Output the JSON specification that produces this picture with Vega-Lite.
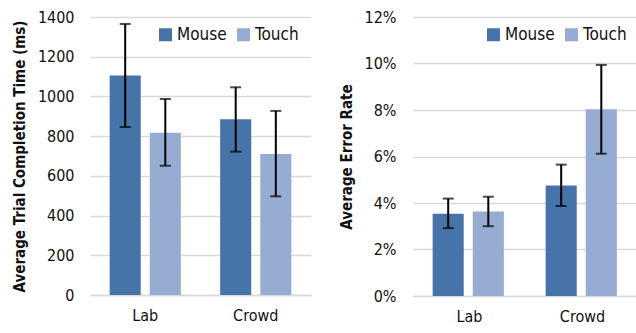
{
  "$schema": "https://vega.github.io/schema/vega-lite/v6.json",
  "background": "white",
  "padding": {"left": 12, "top": 9, "right": 0, "bottom": 0},
  "autosize": {"type": "pad"},
  "spacing": 28,
  "datasets": {
    "time": [
      {"env": "Lab", "device": "Mouse", "value": 1105, "lo": 846, "hi": 1365},
      {"env": "Lab", "device": "Touch", "value": 817, "lo": 651, "hi": 987},
      {"env": "Crowd", "device": "Mouse", "value": 885, "lo": 722, "hi": 1046},
      {"env": "Crowd", "device": "Touch", "value": 710, "lo": 497, "hi": 927}
    ],
    "error": [
      {"env": "Lab", "device": "Mouse", "value": 0.0354, "lo": 0.0292, "hi": 0.0419},
      {"env": "Lab", "device": "Touch", "value": 0.0363, "lo": 0.0300, "hi": 0.0427},
      {"env": "Crowd", "device": "Mouse", "value": 0.0475, "lo": 0.0387, "hi": 0.0565},
      {"env": "Crowd", "device": "Touch", "value": 0.0803, "lo": 0.0612, "hi": 0.0994}
    ]
  },
  "config": {
    "view": {"stroke": null},
    "font": "DejaVu Sans Condensed",
    "axis": {
      "labelFont": "DejaVu Sans Condensed",
      "titleFont": "DejaVu Sans Condensed",
      "labelColor": "#111",
      "titleColor": "#111",
      "labelFontSize": 16,
      "titleFontSize": 15,
      "titleFontWeight": "bold",
      "labelOverlap": false
    },
    "legend": {
      "labelFont": "DejaVu Sans Condensed",
      "labelFontSize": 17,
      "labelColor": "#111"
    }
  },
  "resolve": {"scale": {"color": "independent", "y": "independent"}, "legend": {"color": "independent"}},
  "hconcat": [
    {
      "width": 221,
      "height": 278,
      "data": {"name": "time"},
      "encoding": {
        "x": {"field": "env", "type": "nominal", "sort": ["Lab", "Crowd"],
              "scale": {"paddingInner": 0, "paddingOuter": 0},
              "axis": {"title": null, "labelAngle": 0, "ticks": false, "domainColor": "#d9d9d9", "domainWidth": 1.5, "labelPadding": 12}},
        "xOffset": {"field": "device", "type": "nominal", "sort": ["Mouse", "Touch"],
                    "scale": {"paddingInner": 0.225, "paddingOuter": 0.49}}
      },
      "layer": [
        {
          "mark": {"type": "bar"},
          "encoding": {
            "y": {"field": "value", "type": "quantitative",
                  "scale": {"domain": [0, 1400]},
                  "axis": {"title": "Average Trial Completion Time (ms)", "values": [0,200,400,600,800,1000,1200,1400], "format": "d",
                           "domain": false, "ticks": false, "gridColor": "#d9d9d9", "gridWidth": 1.5, "labelPadding": 16, "titlePadding": 10}},
            "color": {"field": "device", "type": "nominal",
                      "scale": {"domain": ["Mouse", "Touch"], "range": ["#4674A9", "#97ACD3"]},
                      "legend": {"title": null, "orient": "none", "legendX": 67, "legendY": 9, "direction": "horizontal",
                                 "symbolType": "square", "symbolSize": 169, "symbolStrokeWidth": 0, "labelOffset": 3, "columnPadding": 8}}
          }
        },
        {
          "mark": {"type": "rule", "color": "black", "strokeWidth": 2},
          "encoding": {
            "y": {"field": "lo", "type": "quantitative",
                  "axis": {"title": "Average Trial Completion Time (ms)", "values": [0,200,400,600,800,1000,1200,1400], "format": "d",
                           "domain": false, "ticks": false, "gridColor": "#d9d9d9", "gridWidth": 1.5, "labelPadding": 16, "titlePadding": 10}},
            "y2": {"field": "hi"}
          }
        },
        {
          "mark": {"type": "tick", "color": "black", "thickness": 2, "size": 11, "orient": "horizontal"},
          "encoding": {"y": {"field": "lo", "type": "quantitative",
                  "axis": {"title": "Average Trial Completion Time (ms)", "values": [0,200,400,600,800,1000,1200,1400], "format": "d",
                           "domain": false, "ticks": false, "gridColor": "#d9d9d9", "gridWidth": 1.5, "labelPadding": 16, "titlePadding": 10}}}
        },
        {
          "mark": {"type": "tick", "color": "black", "thickness": 2, "size": 11, "orient": "horizontal"},
          "encoding": {"y": {"field": "hi", "type": "quantitative",
                  "axis": {"title": "Average Trial Completion Time (ms)", "values": [0,200,400,600,800,1000,1200,1400], "format": "d",
                           "domain": false, "ticks": false, "gridColor": "#d9d9d9", "gridWidth": 1.5, "labelPadding": 16, "titlePadding": 10}}}
        }
      ]
    },
    {
      "width": 226,
      "height": 279,
      "data": {"name": "error"},
      "encoding": {
        "x": {"field": "env", "type": "nominal", "sort": ["Lab", "Crowd"],
              "scale": {"paddingInner": 0, "paddingOuter": 0},
              "axis": {"title": null, "labelAngle": 0, "ticks": false, "domainColor": "#d9d9d9", "domainWidth": 1.5, "labelPadding": 12}},
        "xOffset": {"field": "device", "type": "nominal", "sort": ["Mouse", "Touch"],
                    "scale": {"paddingInner": 0.22, "paddingOuter": 0.5}}
      },
      "layer": [
        {
          "mark": {"type": "bar"},
          "encoding": {
            "y": {"field": "value", "type": "quantitative",
                  "scale": {"domain": [0, 0.12]},
                  "axis": {"title": "Average Error Rate", "format": ".0%", "values": [0,0.02,0.04,0.06,0.08,0.10,0.12],
                           "domain": false, "ticks": false, "gridColor": "#d9d9d9", "gridWidth": 1.5, "labelPadding": 17, "titlePadding": 10}},
            "color": {"field": "device", "type": "nominal",
                      "scale": {"domain": ["Mouse", "Touch"], "range": ["#4674A9", "#97ACD3"]},
                      "legend": {"title": null, "orient": "none", "legendX": 72, "legendY": 9, "direction": "horizontal",
                                 "symbolType": "square", "symbolSize": 169, "symbolStrokeWidth": 0, "labelOffset": 3, "columnPadding": 8}}
          }
        },
        {
          "mark": {"type": "rule", "color": "black", "strokeWidth": 2},
          "encoding": {
            "y": {"field": "lo", "type": "quantitative",
                  "axis": {"title": "Average Error Rate", "format": ".0%", "values": [0,0.02,0.04,0.06,0.08,0.10,0.12],
                           "domain": false, "ticks": false, "gridColor": "#d9d9d9", "gridWidth": 1.5, "labelPadding": 17, "titlePadding": 10}},
            "y2": {"field": "hi"}
          }
        },
        {
          "mark": {"type": "tick", "color": "black", "thickness": 2, "size": 11, "orient": "horizontal"},
          "encoding": {"y": {"field": "lo", "type": "quantitative",
                  "axis": {"title": "Average Error Rate", "format": ".0%", "values": [0,0.02,0.04,0.06,0.08,0.10,0.12],
                           "domain": false, "ticks": false, "gridColor": "#d9d9d9", "gridWidth": 1.5, "labelPadding": 17, "titlePadding": 10}}}
        },
        {
          "mark": {"type": "tick", "color": "black", "thickness": 2, "size": 11, "orient": "horizontal"},
          "encoding": {"y": {"field": "hi", "type": "quantitative",
                  "axis": {"title": "Average Error Rate", "format": ".0%", "values": [0,0.02,0.04,0.06,0.08,0.10,0.12],
                           "domain": false, "ticks": false, "gridColor": "#d9d9d9", "gridWidth": 1.5, "labelPadding": 17, "titlePadding": 10}}}
        }
      ]
    }
  ]
}
